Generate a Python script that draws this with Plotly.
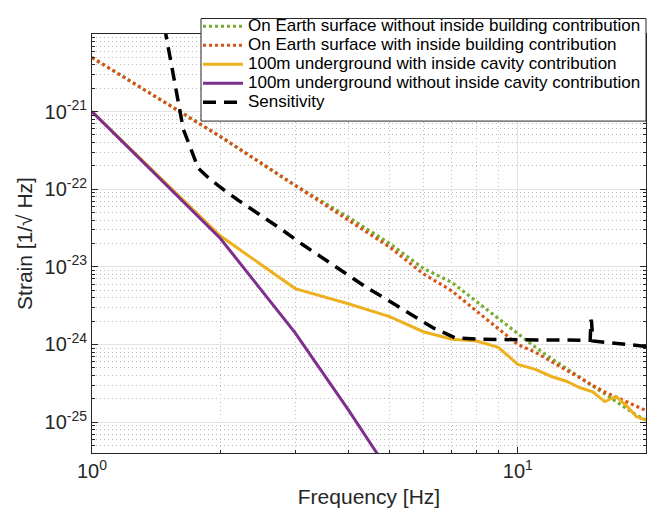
import plotly.graph_objects as go

# Frequency grid (Hz) for the noise projections
freq = list(range(1, 21))

# Newtonian noise strain projections [1/sqrt(Hz)]
surface_no_building = [4.97e-21, 4.79e-22, 1.12e-22, 4.37e-23, 2.0e-23, 9.55e-24, 6.31e-24,
                       3.55e-24, 2.19e-24, 1.35e-24, 9.2e-25, 6.58e-25, 4.93e-25, 3.77e-25,
                       2.9e-25, 2.29e-25, 1.83e-25, 1.49e-25, 1.23e-25, 1.06e-25]
surface_with_building = [4.97e-21, 4.79e-22, 1.12e-22, 3.98e-23, 1.8e-23, 8.13e-24, 4.9e-24,
                         2.69e-24, 1.62e-24, 1.0e-24, 7.94e-25, 5.96e-25, 4.68e-25, 3.72e-25,
                         2.95e-25, 2.45e-25, 2.09e-25, 1.8e-25, 1.6e-25, 1.41e-25]
underground_with_cavity = [1.0e-21, 2.51e-23, 5.25e-24, 3.35e-24, 2.29e-24, 1.46e-24, 1.17e-24,
                           1.11e-24, 9.2e-25, 5.53e-25, 4.79e-25, 3.87e-25, 3.36e-25, 2.77e-25,
                           2.45e-25, 1.84e-25, 2.14e-25, 1.63e-25, 1.17e-25, 1.06e-25]
underground_freq = [1, 2, 3, 4, 5, 6]
underground_no_cavity = [1.0e-21, 2.34e-23, 1.41e-24, 1.44e-25, 2.24e-26, 4.0e-27]

# Detector sensitivity curve
sens_freq = [1.449, 1.492, 1.609, 1.639, 1.699, 1.777, 1.876, 1.98, 2.207, 2.481, 2.79,
             3.109, 3.495, 3.929, 4.419, 4.966, 5.585, 6.335, 7.125, 8.153, 10.0, 12.59,
             14.79, 14.85, 14.9, 15.0, 16.4, 17.0, 20.0]
sens_strain = [2.3e-20, 1.0e-20, 1.02e-21, 5.9e-22, 3.47e-22, 1.86e-22, 1.41e-22, 1.11e-22,
               7.18e-23, 4.67e-23, 3.03e-23, 1.97e-23, 1.28e-23, 8.32e-24, 5.41e-24, 3.69e-24,
               2.51e-24, 1.63e-24, 1.22e-24, 1.17e-24, 1.15e-24, 1.15e-24, 1.135e-24, 2.08e-24,
               1.98e-24, 1.11e-24, 1.06e-24, 1.02e-24, 9.44e-25]

y_tickvals = [1e-25, 1e-24, 1e-23, 1e-22, 1e-21]
y_ticktext = ["10<sup>-25</sup>", "10<sup>-24</sup>", "10<sup>-23</sup>",
              "10<sup>-22</sup>", "10<sup>-21</sup>"]
x_tickvals = [1, 10]
x_ticktext = ["10<sup>0</sup>", "10<sup>1</sup>"]

FONT = "Liberation Sans, Arial, Helvetica, sans-serif"
TXT = "#262626"

W, H = 668, 517
M_L, M_R, M_T, M_B = 92, 22, 23, 61
PLOT_W = W - M_L - M_R
PLOT_H = H - M_T - M_B


def px_to_paper_x(px):
    return (px - M_L) / PLOT_W


def px_to_paper_y(py):
    return (H - M_B - py) / PLOT_H


def legend_name(s):
    return '<span style="font-size:17px">' + s + '</span>'


fig = go.Figure()
fig.add_trace(go.Scatter(x=freq, y=surface_no_building, mode="lines",
                         name=legend_name("On Earth surface without inside building contribution"),
                         line=dict(color="#77AC30", width=3.2, dash="3px,3px")))
fig.add_trace(go.Scatter(x=freq, y=surface_with_building, mode="lines",
                         name=legend_name("On Earth surface with inside building contribution"),
                         line=dict(color="#D95319", width=3.2, dash="3px,3px")))
fig.add_trace(go.Scatter(x=freq, y=underground_with_cavity, mode="lines",
                         name=legend_name("100m underground with inside cavity contribution"),
                         line=dict(color="#EDB120", width=3)))
fig.add_trace(go.Scatter(x=underground_freq, y=underground_no_cavity, mode="lines",
                         name=legend_name("100m underground without inside cavity contribution"),
                         line=dict(color="#7E2F8E", width=3)))
fig.add_trace(go.Scatter(x=sens_freq, y=sens_strain, mode="lines",
                         name=legend_name("Sensitivity"),
                         line=dict(color="black", width=3.5, dash="13px,8px")))

axis_common = dict(
    type="log",
    showline=True, linecolor=TXT, linewidth=1, mirror="ticks",
    ticks="inside", ticklen=6, tickcolor=TXT, tickwidth=1,
    showgrid=True, gridcolor="#e3e3e3", gridwidth=1.2,
    zeroline=False,
    tickfont=dict(family=FONT, size=20, color=TXT),
    minor=dict(dtick="D1", ticks="inside", ticklen=3, tickcolor=TXT,
               showgrid=True, gridcolor="#bdbdbd", griddash="1px,3px", gridwidth=1),
)

# Legend frame drawn as a white box behind the legend entries
fig.add_shape(type="rect", xref="paper", yref="paper", layer="above",
              x0=px_to_paper_x(201), x1=1.0,
              y0=px_to_paper_y(113), y1=px_to_paper_y(7),
              fillcolor="white", line=dict(color=TXT, width=1))

fig.update_layout(
    width=W, height=H,
    margin=dict(l=M_L, r=M_R, t=M_T, b=M_B),
    paper_bgcolor="white", plot_bgcolor="white",
    font=dict(family=FONT, color=TXT),
    showlegend=True,
    legend=dict(x=1, xanchor="right", y=px_to_paper_y(0), yanchor="top",
                bgcolor="rgba(0,0,0,0)", borderwidth=0,
                font=dict(family=FONT, size=12, color="black"),
                itemwidth=40, tracegroupgap=0),
    xaxis=dict(axis_common, range=[0, 1.30103], tickmode="array",
               tickvals=x_tickvals, ticktext=x_ticktext,
               title=dict(text="Frequency [Hz]", font=dict(family=FONT, size=21, color=TXT),
                          standoff=8)),
    yaxis=dict(axis_common, range=[-25.398, -20.0], tickmode="array",
               tickvals=y_tickvals, ticktext=y_ticktext,
               title=dict(text="Strain [1/√ Hz]", font=dict(family=FONT, size=21, color=TXT),
                          standoff=6)),
)

fig.write_html("out.html")
